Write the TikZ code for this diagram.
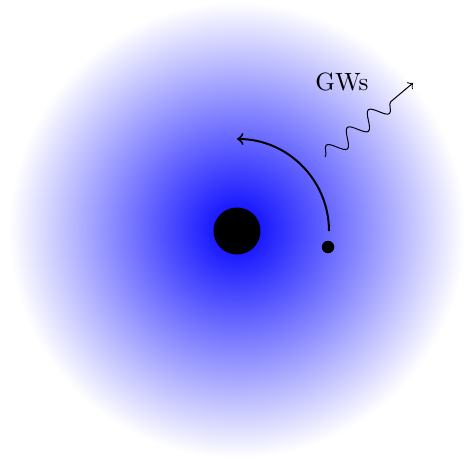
\documentclass[tikz,border=0pt]{standalone}
\usetikzlibrary{decorations.pathmorphing}
\begin{document}
\begin{tikzpicture}[x=0.4pt,y=-0.4pt,
  mass/.style={circle, fill=black, inner sep=0pt},
  wave/.style={->, decorate, decoration={snake, amplitude=3.3pt, segment length=11pt, post length=6.5pt}}]
\useasboundingbox (0,0) rectangle (466,459);
\shade[inner color=blue, outer color=white] (237,230) circle (228);
\node[mass, minimum size=18.8pt] (bh) at (237,231) {};
\node[mass, minimum size=5pt] (star) at (328,247) {};
\coordinate (orbS) at (329,231);
\draw[thick,->] (orbS) arc[start angle=0, end angle=-90, radius=92];
\coordinate (gwS) at (325,157);
\coordinate (gwE) at (413,83);
\draw[wave] (gwS) -- (gwE);
\node (gw) at (342,82) {GWs};
\end{tikzpicture}
\end{document}
